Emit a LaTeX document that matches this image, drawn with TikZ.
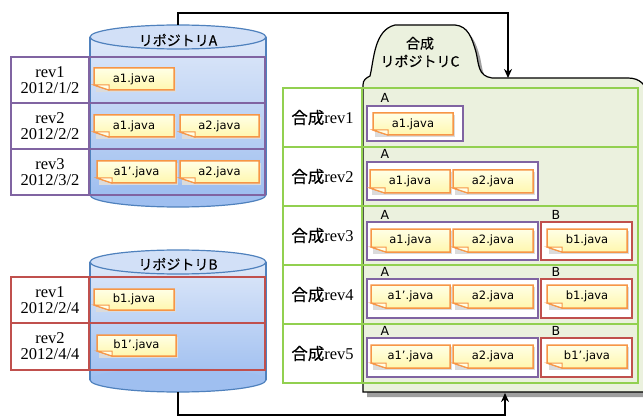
\documentclass[tikz,border=0pt]{standalone}
\usepackage{fontspec}
\setmainfont{Liberation Serif}
\newfontfamily\jpf[FakeBold=0.3]{Noto Sans CJK JP}
\newfontfamily\filef{DejaVu Sans}
\usetikzlibrary{arrows.meta}
\definecolor{cpurple}{HTML}{8064A2}
\definecolor{cred}{HTML}{C0504D}
\definecolor{cgreen}{HTML}{92D050}
\definecolor{corange}{HTML}{F79646}
\definecolor{cblue}{HTML}{4F81BD}
\definecolor{cyltop}{HTML}{DEE8F9}
\definecolor{cylbot}{HTML}{9FBFF0}
\definecolor{cylcap}{HTML}{D2E0F7}
\definecolor{cfill}{HTML}{EBF1DE}
\definecolor{filetop}{HTML}{FFFFE6}
\definecolor{filebot}{HTML}{FFF7AE}
\tikzset{
  revcell/.style={draw=#1, line width=2.6pt, fill=white, minimum width=78pt,
    minimum height=46pt, align=center, inner sep=0pt,
    font=\fontsize{16.5pt}{16pt}\selectfont},
  rowframe/.style={draw=#1, line width=2.6pt},
  ccell/.style={draw=cgreen, line width=2.6pt, fill=white, minimum width=79pt,
    minimum height=59pt, inner sep=0pt, font=\fontsize{16.5pt}{18pt}\selectfont},
  grpbox/.style={draw=#1, line width=2.6pt, fill=white},
  grplabel/.style={anchor=base, inner sep=0pt, font=\filef\fontsize{12.5pt}{13pt}\selectfont},
  filebody/.style={draw=corange, line width=1.5pt, top color=filetop, bottom color=filebot},
  filefold/.style={draw=corange, line width=1pt, fill=filetop},
  filetext/.style={inner sep=0pt, font=\filef\fontsize{11.5pt}{12pt}\selectfont},
  cyltext/.style={inner sep=0pt, font=\jpf\fontsize{14pt}{16pt}\selectfont},
  conn/.style={line width=2.2pt, -{Stealth[length=9pt,width=8pt]}},
}
\newcommand\jfile[6]{%
  \fill[black!14] ({#2+2},{#3+2}) rectangle ({#4+2},{#5+2});
  \shadedraw[filebody] (#2,#3) -- (#4,#3) -- (#4,#5) -- ({#2+15},#5) -- (#2,{#5-5}) -- cycle;
  \filldraw[filefold] (#2,{#5-5}) -- ({#2+15},{#5-5}) -- ({#2+15},#5) -- cycle;
  \node[filetext] (#1) at ({(#2+#4)/2},{(#3+#5)/2}) {#6};}
\newcommand\cylinder[3]{% center x, top center y, bottom center y
  \shade[top color=cyltop, bottom color=cylbot] (90,#2) rectangle (266,#3);
  \fill[cylbot] (#1,#3) ellipse [x radius=88pt, y radius=12pt];
  \begin{scope}
    \clip (80,#3) rectangle (276,{#3+20});
    \draw[cblue, line width=1.2pt] (#1,#3) ellipse [x radius=88pt, y radius=12pt];
  \end{scope}
  \draw[cblue, line width=1.2pt] (90,#2) -- (90,#3) (266,#2) -- (266,#3);
  \filldraw[fill=cylcap, draw=cblue, line width=1.2pt] (#1,#2) ellipse [x radius=88pt, y radius=12pt];
}
\def\Cpath{(363,392) -- (363,85) .. controls (363,80) and (366,78) .. (370,76)
  .. controls (374,60) and (374,30) .. (395,25) -- (455,25)
  .. controls (468,26) and (472,38) .. (476,52)
  .. controls (479,65) and (478,76) .. (492,78) -- (628,78)
  .. controls (640,78) and (646,85) .. (648,95) -- (648,392) -- cycle}
\begin{document}
\begin{tikzpicture}[x=1pt,y=-1pt]
\useasboundingbox (0,0) rectangle (643,417);

% ---------- Repository A ----------
\cylinder{178}{37}{195}
\node[cyltext] (ta) at (178,40) {リポジトリA};
\coordinate (Atop) at (178,25);
\draw[rowframe=cpurple] (11,57) rectangle (265,103);
\draw[rowframe=cpurple] (11,103) rectangle (265,149);
\draw[rowframe=cpurple] (11,149) rectangle (265,195);
\node[revcell=cpurple] (ra1) at (50,80) {rev1\\2012/1/2};
\node[revcell=cpurple] (ra2) at (50,126) {rev2\\2012/2/2};
\node[revcell=cpurple] (ra3) at (50,172) {rev3\\2012/3/2};
\jfile{fa11}{94}{68}{174}{90}{a1.java}
\jfile{fa21}{94}{115}{174}{137}{a1.java}
\jfile{fa22}{180}{115}{259}{137}{a2.java}
\jfile{fa31}{97}{161}{176}{183}{a1’.java}
\jfile{fa32}{180}{161}{259}{183}{a2.java}

% ---------- Repository B ----------
\cylinder{178}{262}{380}
\node[cyltext] (tb) at (178,264) {リポジトリB};
\coordinate (Bbot) at (178,392);
\draw[rowframe=cred] (11,277) rectangle (265,323);
\draw[rowframe=cred] (11,323) rectangle (265,370);
\node[revcell=cred] (rb1) at (50,300) {rev1\\2012/2/4};
\node[revcell=cred, minimum height=47pt] (rb2) at (50,346.5) {rev2\\2012/4/4};
\jfile{fb11}{94}{289}{174}{310}{b1.java}
\jfile{fb21}{97}{335}{176}{356}{b1’.java}

% ---------- Repository C ----------
\fill[gray!75, shift={(4,5)}] \Cpath;
\filldraw[fill=cfill, draw=black, line width=1.2pt] \Cpath;
\node[cyltext, align=center, font=\jpf\fontsize{14pt}{18pt}\selectfont] (tc) at (420,52) {合成\\リポジトリC};
\coordinate (Ctab) at (508,78);
\coordinate (Cbot) at (505,393);

\foreach \ya/\yb in {88/147,147/206,206/265,265/324,324/383}
  \draw[rowframe=cgreen] (283,\ya) rectangle (638,\yb);
\node[ccell] (cr1) at (322.5,117.5) {{\jpf 合成}rev1};
\node[ccell] (cr2) at (322.5,176.5) {{\jpf 合成}rev2};
\node[ccell] (cr3) at (322.5,235.5) {{\jpf 合成}rev3};
\node[ccell] (cr4) at (322.5,294.5) {{\jpf 合成}rev4};
\node[ccell] (cr5) at (322.5,353.5) {{\jpf 合成}rev5};

% row 1
\draw[grpbox=cpurple] (367,106) rectangle (463,141);
\node[grplabel] (la1) at (385,103) {A};
\jfile{fc11}{373}{113}{453}{135}{a1.java}
% row 2
\draw[grpbox=cpurple] (367,162) rectangle (538,200);
\node[grplabel] (la2) at (385,159) {A};
\jfile{fc21}{370}{170}{450}{193}{a1.java}
\jfile{fc22}{453}{170}{533}{193}{a2.java}
% row 3
\draw[grpbox=cpurple] (367,222) rectangle (538,260);
\draw[grpbox=cred] (541,222) rectangle (632,260);
\node[grplabel] (la3) at (385,219) {A};
\node[grplabel] (lb3) at (556,219) {B};
\jfile{fc31}{371}{229}{450}{252}{a1.java}
\jfile{fc32}{453}{229}{533}{252}{a2.java}
\jfile{fc33}{547}{229}{627}{252}{b1.java}
% row 4
\draw[grpbox=cpurple] (367,279) rectangle (538,318);
\draw[grpbox=cred] (541,279) rectangle (632,318);
\node[grplabel] (la4) at (385,276) {A};
\node[grplabel] (lb4) at (556,276) {B};
\jfile{fc41}{371}{285}{450}{308}{a1’.java}
\jfile{fc42}{453}{285}{533}{308}{a2.java}
\jfile{fc43}{547}{285}{627}{308}{b1.java}
% row 5
\draw[grpbox=cpurple] (367,338) rectangle (538,377);
\draw[grpbox=cred] (541,338) rectangle (632,377);
\node[grplabel] (la5) at (385,335) {A};
\node[grplabel] (lb5) at (556,335) {B};
\jfile{fc51}{371}{345}{450}{368}{a1’.java}
\jfile{fc52}{453}{345}{533}{368}{a2.java}
\jfile{fc53}{547}{345}{627}{368}{b1’.java}

% ---------- connectors ----------
\draw[conn] (Atop) -- ++(0,-12) -| (Ctab);
\draw[conn] (Bbot) -- ++(0,23) -| (Cbot);
\end{tikzpicture}
\end{document}
